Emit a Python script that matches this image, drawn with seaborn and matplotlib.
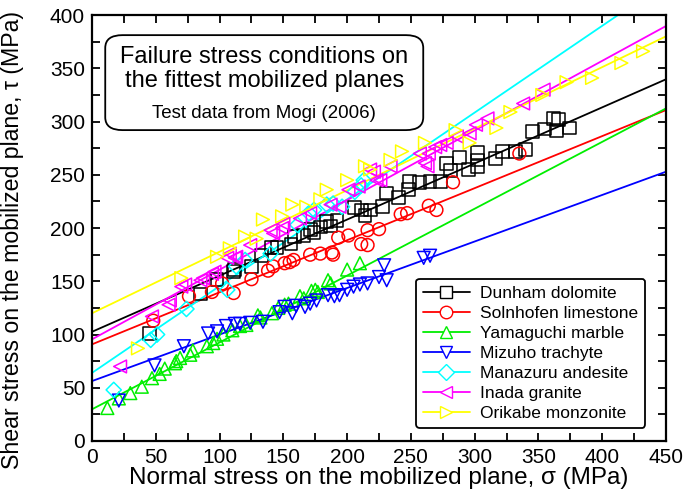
import numpy as np
import pandas as pd
import matplotlib
matplotlib.use("Agg")
import matplotlib.pyplot as plt
import seaborn as sns
from matplotlib.lines import Line2D
from matplotlib.patches import FancyBboxPatch
from matplotlib.ticker import MultipleLocator

# ---------------- data ----------------
names = ["Dunham dolomite", "Solnhofen limestone", "Yamaguchi marble",
         "Mizuho trachyte", "Manazuru andesite", "Inada granite",
         "Orikabe monzonite"]
colors = ["#000000", "#FF0000", "#00EE00", "#0000FF", "#00FFFF", "#FF00FF", "#FFFF00"]
markers = ["s", "o", "^", "v", "D", "<", ">"]

# fitted lines: intercept (MPa) and slope
intercepts = [102.6, 90.8, 29.8, 56.3, 64.0, 95.5, 120.0]
slopes = [0.527, 0.489, 0.628, 0.437, 0.815, 0.654, 0.578]

dunham_x = [45, 85, 98, 111, 112, 125, 133, 141, 145, 156, 159, 166, 171, 174, 179, 184, 187, 192,
            206, 211, 214, 218, 228, 231, 240, 248, 249, 257, 265, 273, 278, 281, 288, 295, 302, 302,
            302, 316, 322, 332, 340, 345, 355, 362, 364, 366, 374]
dunham_y = [101, 138, 152, 159, 161, 164, 174, 182, 182, 185, 192, 193, 199, 196, 201, 206, 202, 207,
            219, 217, 212, 217, 220, 233, 229, 236, 244, 243, 244, 244, 261, 254, 266, 255, 271, 264,
            258, 265, 272, 272, 274, 291, 293, 303, 292, 302, 294]

solnhofen_x = [48, 76, 94, 102, 111, 125, 138, 142, 151, 155, 158, 171, 179, 188, 189, 193, 201, 211,
               216, 216, 225, 242, 247, 264, 270, 283, 335]
solnhofen_y = [113, 136, 140, 148, 139, 152, 160, 164, 167, 168, 170, 175, 176, 177, 175, 191, 193, 185,
               184, 198, 199, 213, 214, 221, 217, 243, 270]

yamaguchi_x = [12, 21, 30, 39, 47, 53, 57, 65, 66, 69, 77, 79, 90, 95, 98, 103, 110, 116, 121, 130,
               132, 141, 146, 151, 154, 163, 166, 172, 175, 177, 185, 187, 200, 210]
yamaguchi_y = [31, 40, 45, 51, 59, 63, 68, 73, 75, 78, 81, 85, 89, 92, 96, 100, 104, 108, 109, 118,
               116, 120, 125, 128, 129, 136, 134, 141, 142, 140, 151, 148, 161, 167]

mizuho_x = [21, 49, 72, 91, 98, 105, 112, 116, 124, 134, 147, 151, 157, 160, 167, 171, 176, 185, 190,
            194, 200, 205, 210, 216, 225, 229, 231, 260, 265]
mizuho_y = [38, 71, 89, 101, 103, 108, 110, 110, 111, 112, 121, 126, 120, 127, 126, 129, 132, 137, 136,
            137, 142, 145, 147, 148, 154, 165, 151, 172, 174]

manazuru_x = [17, 46, 51, 74, 106, 113, 120, 140, 161, 170, 174, 184, 189, 196, 206, 211, 213]
manazuru_y = [48, 95, 100, 124, 142, 164, 170, 176, 203, 214, 217, 222, 223, 220, 234, 240, 245]

inada_x = [22, 47, 60, 61, 70, 73, 85, 87, 94, 96, 106, 108, 112, 113, 124, 140, 142, 149, 150, 163,
           171, 187, 194, 201, 209, 221, 223, 218, 226, 234, 257, 261, 263, 264, 269, 273, 278, 286,
           296, 301, 310, 338, 354]
inada_y = [70, 117, 128, 132, 145, 147, 151, 153, 157, 159, 172, 176, 172, 173, 184, 198, 195, 200, 204,
           209, 214, 222, 220, 236, 239, 253, 245, 255, 245, 258, 270, 261, 258, 270, 276, 278, 280,
           286, 289, 297, 303, 317, 330]

orikabe_x = [36, 70, 98, 108, 120, 129, 134, 149, 157, 168, 179, 184, 200, 214, 218, 234, 243, 261,
             285, 296, 317, 328, 353, 372, 392, 415, 432]
orikabe_y = [87, 153, 173, 181, 192, 190, 208, 211, 222, 220, 227, 236, 245, 258, 255, 264, 272, 280,
             292, 280, 294, 309, 325, 337, 341, 355, 366]

xs = [dunham_x, solnhofen_x, yamaguchi_x, mizuho_x, manazuru_x, inada_x, orikabe_x]
ys = [dunham_y, solnhofen_y, yamaguchi_y, mizuho_y, manazuru_y, inada_y, orikabe_y]

rows = []
for n, xv, yv in zip(names, xs, ys):
    for a, b in zip(xv, yv):
        rows.append({"rock": n, "sigma": a, "tau": b})
df = pd.DataFrame(rows)

line_x = np.array([0.0, 450.0])
lrows = []
for n, c, s in zip(names, intercepts, slopes):
    for a in line_x:
        lrows.append({"rock": n, "sigma": a, "tau": c + s * a})
ldf = pd.DataFrame(lrows)

# ---------------- plot ----------------
sns.set_style("ticks")
plt.rcParams["font.family"] = ["Liberation Sans", "DejaVu Sans"]
plt.rcParams.update({"text.color": "black", "axes.labelcolor": "black",
                     "xtick.color": "black", "ytick.color": "black",
                     "axes.edgecolor": "black"})

fig = plt.figure(figsize=(6.92, 5.04), dpi=100)
ax = fig.add_axes([0.133, 0.125, 0.8295, 0.845])

palette = dict(zip(names, colors))
sns.lineplot(data=ldf, x="sigma", y="tau", hue="rock", palette=palette, hue_order=names,
             legend=False, ax=ax, lw=1.3, zorder=2)
for n, mk in zip(names, markers):
    sub = df[df["rock"] == n]
    ms = 60 if mk == "D" else 85
    sns.scatterplot(data=sub, x="sigma", y="tau", marker=mk, s=ms, facecolor="none",
                    edgecolor=palette[n], linewidth=1.1, ax=ax, legend=False, zorder=3)

ax.set_xlim(0, 450)
ax.set_ylim(0, 400)
ax.xaxis.set_major_locator(MultipleLocator(50))
ax.xaxis.set_minor_locator(MultipleLocator(25))
ax.yaxis.set_major_locator(MultipleLocator(50))
ax.yaxis.set_minor_locator(MultipleLocator(25))
ax.tick_params(which="both", direction="in", top=True, right=True, width=1.3, length=6,
               color="black")
ax.tick_params(which="major", labelsize=15, pad=5, labelcolor="black")
for sp in ax.spines.values():
    sp.set_linewidth(1.6)
    sp.set_color("black")

ax.set_xlabel("Normal stress on the mobilized plane, σ (MPa)", fontsize=17.5, labelpad=0,
              color="black")
ax.set_ylabel("Shear stress on the mobilized plane, τ (MPa)", fontsize=16.7, color="black")
ax.yaxis.set_label_coords(-0.118, 0.472)

# legend
handles = [Line2D([0], [0], color=c, marker=m, markerfacecolor="white", markeredgecolor=c,
                  markersize=9 if m != "D" else 8, lw=1.3)
           for c, m in zip(colors, markers)]
leg = ax.legend(handles, names, loc="lower right", bbox_to_anchor=(0.964, 0.031), fontsize=12.5,
                frameon=True, fancybox=True, edgecolor="black", handlelength=2.7,
                borderpad=0.4, labelspacing=0.28, handletextpad=0.6, borderaxespad=0)
leg.get_frame().set_linewidth(1.3)
leg.get_frame().set_alpha(1)
for t in leg.get_texts():
    t.set_color("black")

# title box
box = FancyBboxPatch((0.023, 0.730), 0.554, 0.223, boxstyle="round,pad=0,rounding_size=0.03",
                     transform=ax.transAxes, facecolor="white", edgecolor="black", lw=1.3, zorder=5)
ax.add_patch(box)
ax.text(0.30, 0.874, "Failure stress conditions on\nthe fittest mobilized planes", transform=ax.transAxes,
        ha="center", va="center", fontsize=17, linespacing=1.1, zorder=6, color="black")
ax.text(0.30, 0.770, "Test data from Mogi (2006)", transform=ax.transAxes,
        ha="center", va="center", fontsize=13.5, zorder=6, color="black")

fig.savefig("out.png", dpi=100)
